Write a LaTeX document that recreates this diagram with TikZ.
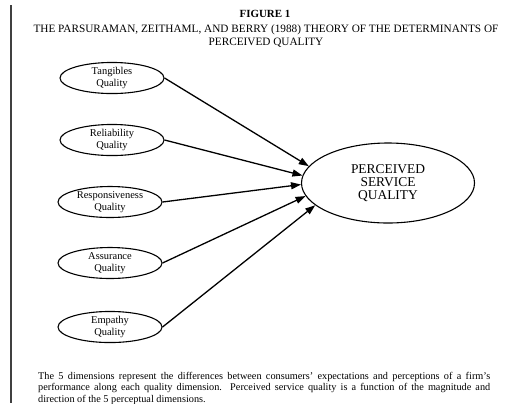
\documentclass[tikz,border=0pt]{standalone}
\usepackage{fontspec}
\setmainfont{Liberation Serif}
\usetikzlibrary{shapes.geometric,arrows.meta}
\begin{document}
\begin{tikzpicture}[x=1bp,y=-1bp,
  small/.style={draw,ellipse,line width=1.1bp,minimum width=104bp,minimum height=31bp,inner sep=0pt,align=center,font=\fontsize{10.5}{12.5}\selectfont},
  big/.style={draw,ellipse,line width=1.1bp,minimum width=173bp,minimum height=80bp,inner sep=0pt,align=center,font=\fontsize{13.5}{13}\selectfont},
  link/.style={line width=1.3bp,-{Triangle[length=10bp,width=7bp]}},
  notefont/.style={font=\fontsize{10.3}{11}\selectfont,inner sep=0pt,anchor=base west}]
\useasboundingbox (0,0) rectangle (509,403);
\draw[line width=1.5bp,black!75] (11,5) -- (11,403);
\node[font=\bfseries\fontsize{11}{12}\selectfont] (fig) at (265,14) {FIGURE 1};
\node[align=center,font=\fontsize{11.3}{14}\selectfont] (title) at (266,36) {THE PARSURAMAN, ZEITHAML, AND BERRY (1988) THEORY OF THE DETERMINANTS OF\\PERCEIVED QUALITY};
\node[small] (tan) at (112,78) {Tangibles\\Quality};
\node[small] (rel) at (112,140) {Reliability\\Quality};
\node[small] (res) at (110,202) {Responsiveness\\Quality};
\node[small] (ass) at (110,263) {Assurance\\Quality};
\node[small] (emp) at (110,327) {Empathy\\Quality};
\node[big] (psq) at (388,183) {PERCEIVED\\SERVICE\\QUALITY};
\draw[link] (tan.east) -- (psq.168);
\draw[link] (rel.east) -- (psq.175);
\draw[link] (res.east) -- (psq.181);
\draw[link] (ass.east) -- (psq.189);
\draw[link] (emp.east) -- (psq.197);
\node[notefont] (n1) at (38,379) {\makebox[452bp][s]{The 5 dimensions represent the differences between consumers' expectations and perceptions of a firm's}};
\node[notefont] (n2) at (38,390.5) {\makebox[452bp][s]{performance along each quality dimension.\ \ Perceived service quality is a function of the magnitude and}};
\node[notefont] (n3) at (38,402) {direction of the 5 perceptual dimensions.};
\end{tikzpicture}
\end{document}
